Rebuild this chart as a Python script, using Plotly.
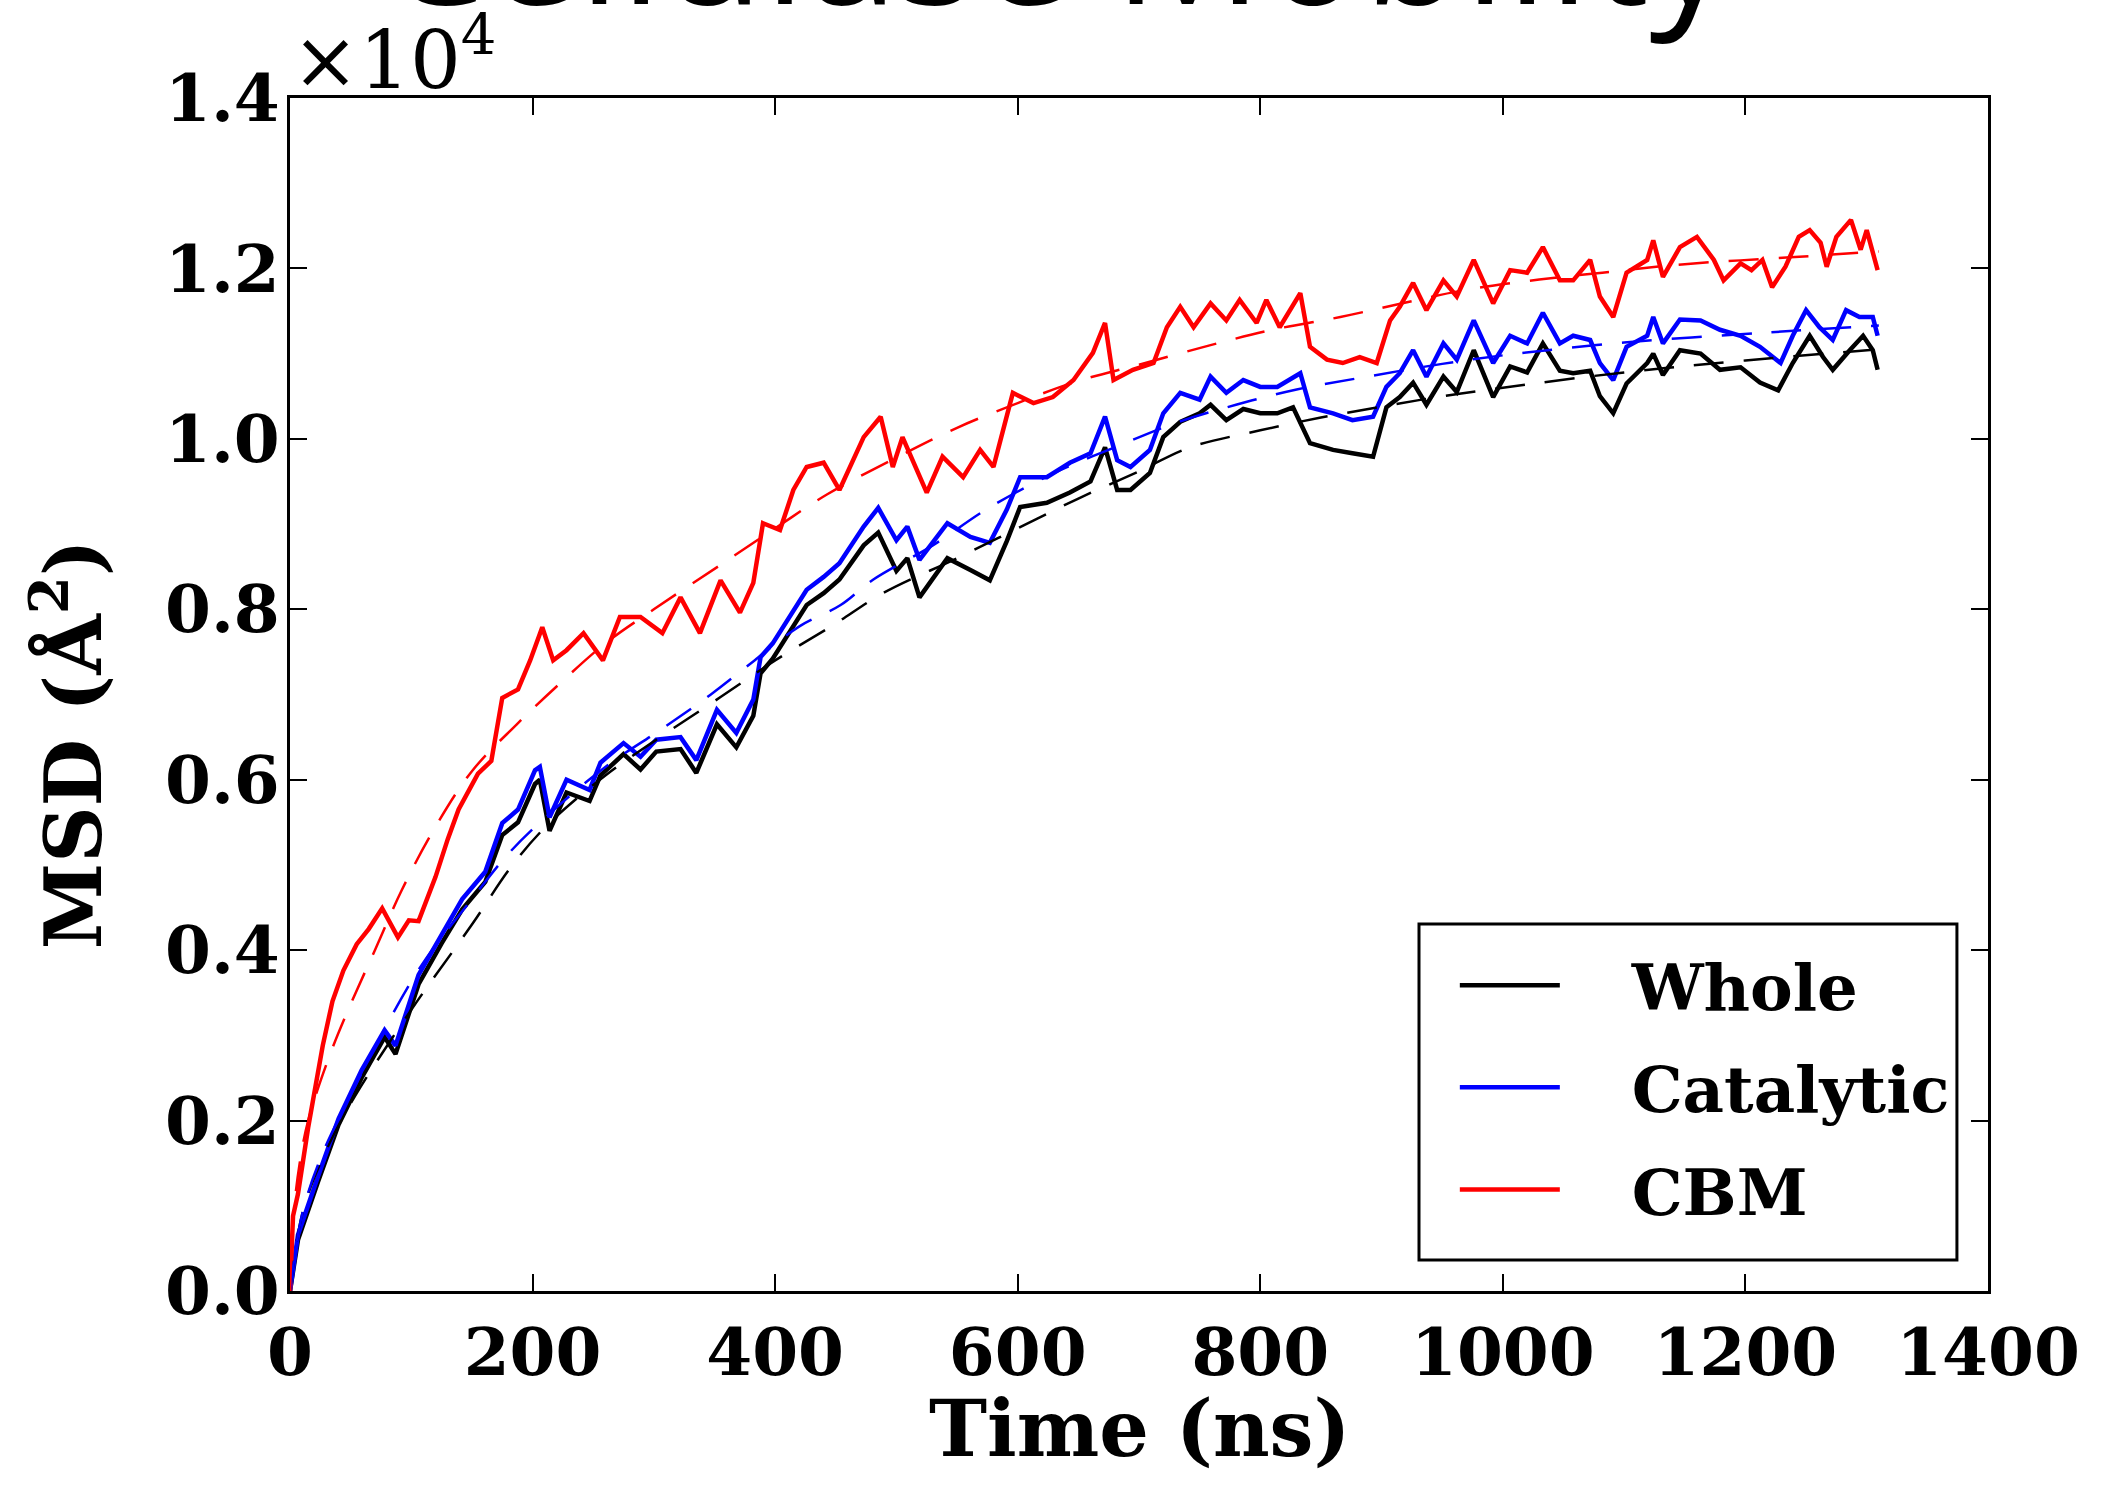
import plotly.graph_objects as go

# ---------------- data ----------------
whole_t = [0, 6.6, 23, 40, 59, 78, 87, 106, 125, 142, 161, 175, 188, 202, 206, 214, 228, 247, 256, 275, 289, 302, 322, 335, 352, 368, 382, 388, 398, 412, 426, 440, 453, 473, 485, 500, 509, 519, 542, 561, 577, 591, 602, 624, 643, 660, 672, 682, 693, 709, 720, 734, 750, 759, 772, 786, 800, 814, 827, 841, 860, 876, 893, 904, 915, 926, 937, 951, 962, 976, 992, 1006, 1020, 1033, 1047, 1058, 1072, 1080, 1091, 1102, 1119, 1124, 1132, 1146, 1163, 1179, 1196, 1212, 1227, 1239, 1253, 1264, 1272, 1286, 1297, 1305, 1309]
whole_v = [0, 600, 1280, 1950, 2500, 2980, 2780, 3600, 4080, 4480, 4800, 5350, 5500, 5950, 6000, 5400, 5850, 5750, 6050, 6300, 6120, 6330, 6360, 6080, 6650, 6380, 6750, 7250, 7420, 7740, 8050, 8190, 8350, 8750, 8900, 8450, 8600, 8140, 8600, 8460, 8340, 8800, 9200, 9250, 9370, 9500, 9900, 9400, 9400, 9600, 10020, 10200, 10300, 10400, 10220, 10350, 10300, 10300, 10370, 9950, 9870, 9830, 9790, 10370, 10490, 10660, 10400, 10730, 10550, 11040, 10490, 10850, 10780, 11120, 10800, 10770, 10800, 10500, 10300, 10650, 10890, 11000, 10750, 11040, 11000, 10810, 10840, 10660, 10570, 10890, 11210, 10960, 10810, 11040, 11210, 11040, 10810]

catalytic_t = [0, 6.6, 23, 40, 59, 78, 87, 106, 125, 142, 161, 175, 188, 202, 206, 214, 228, 247, 256, 275, 289, 302, 322, 335, 352, 368, 382, 388, 398, 412, 426, 440, 453, 473, 485, 500, 509, 519, 542, 561, 577, 591, 602, 624, 643, 660, 672, 682, 693, 709, 720, 734, 750, 759, 772, 786, 800, 814, 833, 841, 860, 876, 893, 904, 915, 926, 937, 951, 962, 976, 992, 1006, 1020, 1033, 1047, 1058, 1072, 1080, 1091, 1102, 1119, 1124, 1132, 1146, 1163, 1179, 1196, 1212, 1229, 1239, 1250, 1261, 1272, 1283, 1294, 1305, 1309]
catalytic_v = [0, 660, 1340, 2020, 2590, 3060, 2880, 3710, 4180, 4600, 4920, 5490, 5650, 6110, 6150, 5560, 6000, 5880, 6200, 6430, 6270, 6470, 6500, 6230, 6820, 6550, 6940, 7440, 7600, 7910, 8230, 8380, 8540, 8970, 9190, 8810, 8970, 8580, 9010, 8850, 8780, 9170, 9550, 9550, 9720, 9830, 10260, 9750, 9670, 9870, 10300, 10540, 10460, 10730, 10540, 10690, 10610, 10610, 10770, 10370, 10300, 10220, 10260, 10610, 10770, 11040, 10730, 11120, 10930, 11390, 10890, 11210, 11120, 11480, 11120, 11210, 11160, 10890, 10690, 11080, 11210, 11430, 11120, 11400, 11390, 11280, 11210, 11080, 10890, 11210, 11510, 11310, 11160, 11510, 11430, 11430, 11210]

cbm_t = [0, 2.5, 6.6, 15, 27, 35, 44, 55, 65, 76, 89, 98, 106, 120, 130, 139, 155, 166, 175, 188, 198, 208, 217, 228, 242, 258, 272, 289, 307, 322, 338, 355, 371, 382, 390, 404, 415, 426, 440, 453, 473, 487, 497, 505, 525, 538, 555, 569, 580, 596, 613, 629, 646, 662, 672, 679, 695, 712, 723, 734, 745, 759, 772, 783, 797, 805, 816, 833, 841, 855, 868, 882, 896, 907, 915, 926, 937, 951, 962, 976, 992, 1006, 1020, 1033, 1047, 1058, 1072, 1080, 1091, 1102, 1119, 1124, 1132, 1146, 1160, 1174, 1182, 1196, 1205, 1214, 1222, 1233, 1244, 1253, 1262, 1267, 1275, 1287, 1295, 1300, 1309]
cbm_v = [0, 880, 1140, 1920, 2880, 3400, 3760, 4070, 4250, 4490, 4150, 4350, 4340, 4860, 5300, 5650, 6070, 6220, 6960, 7060, 7400, 7790, 7400, 7520, 7720, 7400, 7910, 7910, 7720, 8140, 7720, 8340, 7960, 8310, 9010, 8930, 9400, 9670, 9720, 9400, 10020, 10260, 9670, 10020, 9370, 9790, 9550, 9870, 9670, 10540, 10420, 10490, 10690, 11010, 11360, 10690, 10810, 10890, 11310, 11550, 11310, 11590, 11390, 11630, 11360, 11630, 11310, 11710, 11080, 10930, 10890, 10960, 10890, 11390, 11550, 11830, 11510, 11860, 11670, 12100, 11590, 11980, 11950, 12250, 11860, 11860, 12100, 11670, 11430, 11950, 12100, 12330, 11900, 12250, 12370, 12100, 11860, 12060, 11980, 12100, 11780, 12020, 12370, 12450, 12300, 12020, 12370, 12570, 12220, 12450, 11980]

# fitted (dashed) curves
whole_fit_t = [0, 10, 25, 50, 100, 150, 183, 213, 260, 300, 355, 400, 448, 489, 550, 600, 650, 700, 742, 800, 850, 901, 950, 1000, 1100, 1200, 1310]
whole_fit_v = [0, 900, 1500, 2200, 3300, 4300, 4990, 5480, 6050, 6450, 6970, 7400, 7815, 8190, 8600, 8950, 9300, 9620, 9900, 10100, 10250, 10380, 10500, 10600, 10780, 10920, 11050]
catalytic_fit_t = [0, 10, 25, 50, 106, 150, 180, 210, 260, 307, 347, 383, 420, 454, 481, 530, 575, 630, 680, 731, 780, 830, 884, 950, 1000, 1100, 1220, 1310]
catalytic_fit_v = [0, 900, 1550, 2300, 3770, 4600, 5130, 5550, 6150, 6600, 7000, 7400, 7800, 8050, 8350, 8750, 9180, 9600, 9900, 10190, 10400, 10580, 10720, 10880, 10980, 11130, 11250, 11330]
cbm_fit_t = [0, 3, 8, 15, 31, 48, 70, 92, 118, 150, 187, 221, 260, 300, 358, 400, 443, 500, 550, 600, 650, 700, 759, 810, 866, 920, 970, 1030, 1082, 1150, 1237, 1310]
cbm_fit_v = [0, 900, 1500, 2000, 2700, 3300, 4000, 4700, 5400, 6100, 6650, 7110, 7600, 8000, 8550, 8950, 9350, 9780, 10130, 10420, 10680, 10870, 11100, 11280, 11430, 11600, 11750, 11870, 11950, 12050, 12130, 12200]

series_names = ["Whole", "Catalytic", "CBM"]
series_colors = ["#000000", "#0000ff", "#ff0000"]

x_tickvals = [0, 200, 400, 600, 800, 1000, 1200, 1400]
y_tickvals = [0, 2000, 4000, 6000, 8000, 10000, 12000, 14000]
y_ticktext = ["0.0", "0.2", "0.4", "0.6", "0.8", "1.0", "1.2", "1.4"]

title_text = "Cellulase Mobility"
x_title = "Time (ns)"
y_title = "MSD (Å<sup>2</sup>)"

# ---------------- figure ----------------
SERIF = "DejaVu Serif"
fig = go.Figure()

solid = [(whole_t, whole_v), (catalytic_t, catalytic_v), (cbm_t, cbm_v)]
fits = [(whole_fit_t, whole_fit_v), (catalytic_fit_t, catalytic_fit_v), (cbm_fit_t, cbm_fit_v)]

GAP = "&nbsp;&nbsp;&nbsp;"
for (t, v), name, col in zip(solid, series_names, series_colors):
    fig.add_trace(go.Scatter(x=t, y=v, mode="lines", name=GAP + name, legendgroup=name,
                             line=dict(color=col, width=4.5)))
for (t, v), name, col in zip(fits, series_names, series_colors):
    fig.add_trace(go.Scatter(x=t, y=v, mode="lines", name=name + " fit", showlegend=False,
                             line=dict(color=col, width=2.5, dash="30px,20px", shape="spline")))

axis_common = dict(showline=True, linecolor="black", linewidth=3, mirror="ticks",
                   ticks="inside", ticklen=17, tickwidth=2, tickcolor="black",
                   showgrid=False, zeroline=False)

fig.update_xaxes(range=[0, 1400], tickvals=x_tickvals, **axis_common,
                 tickfont=dict(family=SERIF, size=66, color="black", weight="bold"),
                 ticklabelstandoff=2)
fig.update_yaxes(range=[0, 14000], tickvals=y_tickvals, ticktext=y_ticktext, **axis_common,
                 tickfont=dict(family=SERIF, size=66, color="black", weight="bold"),
                 ticklabelstandoff=-6)

fig.add_annotation(text="<b>" + x_title + "</b>", xref="paper", yref="paper",
                   x=0.5, y=-0.1155, xanchor="center", yanchor="middle", showarrow=False,
                   font=dict(family=SERIF, size=78, color="black"))

fig.add_annotation(text="<b>" + y_title + "</b>", xref="paper", yref="paper",
                   x=-0.131, y=0.458, xanchor="center", yanchor="middle",
                   textangle=-90, showarrow=False,
                   font=dict(family=SERIF, size=78, color="black"))

fig.add_annotation(text="×10<sup>4</sup>", xref="paper", yref="paper",
                   x=0.0, y=0.991, xanchor="left", yanchor="bottom", showarrow=False,
                   font=dict(family=SERIF, size=80, color="black"))

# legend frame
fig.add_shape(type="rect", xref="paper", yref="paper",
              x0=0.6649, x1=0.9817, y0=0.026, y1=0.3076,
              line=dict(color="black", width=3), fillcolor="white", layer="above")

fig.update_layout(
    width=2113, height=1496,
    margin=dict(l=290, r=125, t=98, b=205),
    paper_bgcolor="white", plot_bgcolor="white",
    title=dict(text=title_text, x=0.5, xanchor="center", xref="container",
               yref="container", y=0.9975, yanchor="bottom",
               font=dict(family="Open Sans", size=166, color="black")),
    legend=dict(x=0.686, y=0.2967, xanchor="left", yanchor="top",
                bgcolor="rgba(0,0,0,0)", borderwidth=0,
                font=dict(family=SERIF, size=64, color="black", weight="bold"),
                itemwidth=100, tracegroupgap=16),
    showlegend=True,
)

fig.write_html("out.html")
